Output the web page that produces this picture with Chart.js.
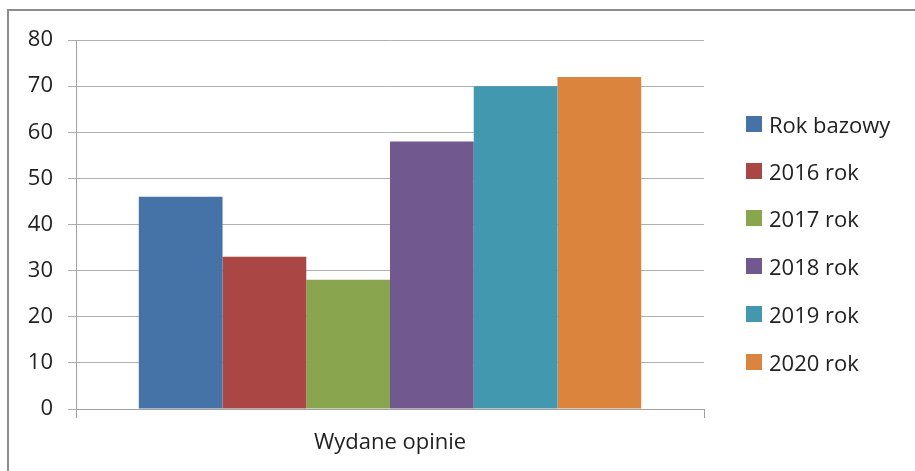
<!DOCTYPE html>
<html>
<head>
<meta charset="utf-8">
<script src="https://cdn.jsdelivr.net/npm/chart.js@4/dist/chart.umd.min.js"></script>
<style>
    html, body { margin: 0; padding: 0; background: #fff; }
    #wrap { position: relative; width: 915px; height: 471px; overflow: hidden; }
    #frame { position: absolute; left: 7px; top: 9px; width: 1000px; height: 600px;
             border: 2px solid #8c8c8c; box-sizing: border-box; }
    #chart { position: absolute; left: 0; top: 0; }
    #legend { position: absolute; left: 746px; top: 0; font-family: 'Open Sans', sans-serif;
              font-size: 22px; color: #222; }
    .item { position: absolute; left: 0; white-space: nowrap; display: flex; align-items: center; }
    .box { width: 16px; height: 16px; margin-right: 7px; }
</style>
</head>
<body>
<div id="wrap">
    <div id="frame"></div>
    <canvas id="chart" width="915" height="471"></canvas>
    <div id="legend"></div>
</div>
<script>
    // Chart data
    const categories = ['Wydane opinie'];
    const seriesNames = ['Rok bazowy', '2016 rok', '2017 rok', '2018 rok', '2019 rok', '2020 rok'];
    const seriesValues = [46, 33, 28, 58, 70, 72];
    const seriesColors = ['#4572A7', '#AA4643', '#89A54E', '#71588F', '#4198AF', '#DB843D'];

    const datasets = seriesNames.map(function (name, i) {
        return {
            label: name,
            data: [seriesValues[i]],
            backgroundColor: seriesColors[i],
            borderWidth: 0,
            categoryPercentage: 0.8,
            barPercentage: 1.0
        };
    });

    const font = { family: "'Open Sans', sans-serif", size: 22 };

    new Chart(document.getElementById('chart').getContext('2d'), {
        type: 'bar',
        data: { labels: categories, datasets: datasets },
        options: {
            responsive: false,
            animation: false,
            layout: { padding: { top: 40, right: 211, left: 0, bottom: 0 } },
            plugins: {
                legend: { display: false },
                tooltip: { enabled: false }
            },
            scales: {
                y: {
                    min: 0,
                    max: 80,
                    ticks: { stepSize: 10, color: '#222', font: font, padding: 15 },
                    grid: { color: '#b0b0b0', lineWidth: 1, tickLength: 8 },
                    border: { color: '#a0a0a0' },
                    afterFit: function (scale) { scale.width = 76; }
                },
                x: {
                    ticks: { color: '#222', font: font, padding: 12 },
                    grid: { drawOnChartArea: false, tickLength: 9, color: '#a0a0a0' },
                    border: { color: '#a0a0a0' },
                    afterFit: function (scale) { scale.height = 62; }
                }
            }
        }
    });

    // Legend on the right
    const rowTops = [124, 171, 218, 266, 314, 362];
    const legend = document.getElementById('legend');
    seriesNames.forEach(function (name, i) {
        const item = document.createElement('div');
        item.className = 'item';
        item.style.top = (rowTops[i] - 15) + 'px';
        item.style.height = '30px';
        item.innerHTML = '<span class="box" style="background:' + seriesColors[i] + '"></span>' + name;
        legend.appendChild(item);
    });
</script>
</body>
</html>
